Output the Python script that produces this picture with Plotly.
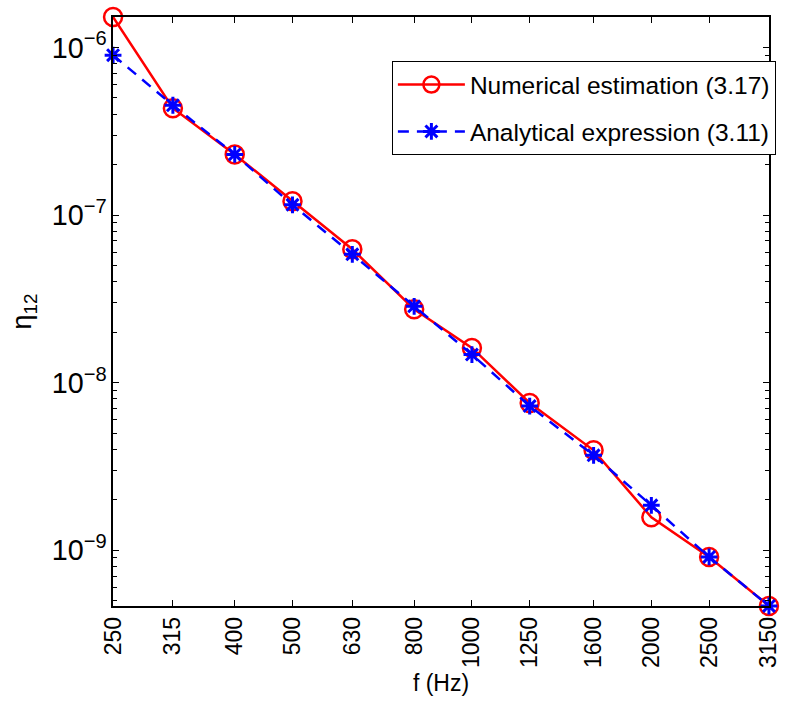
import numpy as np
import plotly.graph_objects as go

freqs = [250, 315, 400, 500, 630, 800, 1000, 1250, 1600, 2000, 2500, 3150]
freq_labels = ["250", "315", "400", "500", "630", "800", "1000", "1250", "1600", "2000", "2500", "3150"]
numerical = [1.52e-6, 4.34e-7, 2.30e-7, 1.21e-7, 6.25e-8, 2.74e-8, 1.61e-8, 7.55e-9, 3.94e-9, 1.57e-9, 9.1e-10, 4.64e-10]
analytical = [9.0e-7, 4.52e-7, 2.30e-7, 1.15e-7, 5.83e-8, 2.85e-8, 1.47e-8, 7.24e-9, 3.68e-9, 1.85e-9, 9.1e-10, 4.64e-10]
y_min, y_max = 4.64e-10, 1.52e-6
minor_vals = [m * 10.0 ** e for e in range(-10, -5) for m in range(2, 10)]

FONT = "Liberation Sans, Arial, Helvetica, sans-serif"
EPS = 1e-4

fig = go.Figure()
fig.add_trace(go.Scatter(
    x=freqs, y=numerical, mode="lines+markers",
    name="Numerical estimation (3.17)", legendgroup="a",
    line=dict(color="#ff0000", width=2.5),
    marker=dict(symbol="circle-open", size=18, color="#ff0000", line=dict(width=2.5, color="#ff0000")),
    cliponaxis=False,
))
fig.add_trace(go.Scatter(
    x=freqs, y=analytical, mode="lines+markers",
    name="Analytical expression (3.11)", legendgroup="b",
    line=dict(color="#0000ff", width=2.5, dash="11px,8px"),
    marker=dict(symbol="asterisk-open", size=14, color="#0000ff", line=dict(width=3, color="#0000ff")),
    cliponaxis=False,
))
# invisible carrier so the minor-tick overlay axis is drawn
fig.add_trace(go.Scatter(
    x=[freqs[0]], y=[y_max], yaxis="y2", mode="markers",
    marker=dict(opacity=0), showlegend=False, hoverinfo="skip",
))

fig.update_layout(
    width=793, height=704,
    margin=dict(l=113, r=12, t=17, b=89),
    paper_bgcolor="white", plot_bgcolor="white",
    font=dict(family=FONT, size=23, color="black"),
    showlegend=True,
    legend=dict(
        x=1.0105, y=0.925, xanchor="right", yanchor="top",
        bgcolor="white", bordercolor="black", borderwidth=1,
        font=dict(size=24.5), tracegroupgap=12, itemwidth=67,
        traceorder="grouped",
    ),
    yaxis2=dict(
        type="log", overlaying="y", side="left",
        range=[np.log10(y_min) - EPS, np.log10(y_max) + EPS],
        tickmode="array", tickvals=minor_vals, showticklabels=False,
        ticks="inside", ticklen=4, tickwidth=1, tickcolor="black",
        mirror="ticks", showline=False, showgrid=False, zeroline=False,
    ),
)
fig.update_xaxes(
    type="log",
    range=[np.log10(freqs[0]) - EPS, np.log10(freqs[-1]) + EPS],
    tickmode="array", tickvals=freqs, ticktext=freq_labels,
    tickangle=-90,
    ticks="inside", ticklen=6, tickwidth=1, tickcolor="black",
    showline=True, linecolor="black", linewidth=1.5, mirror="ticks",
    showgrid=False, zeroline=False,
    title=dict(text="f (Hz)", font=dict(size=23), standoff=8),
)
fig.layout.yaxis.update(
    type="log",
    range=[np.log10(y_min) - EPS, np.log10(y_max) + EPS],
    dtick=1, exponentformat="power",
    ticks="inside", ticklen=6, tickwidth=1, tickcolor="black",
    showline=True, linecolor="black", linewidth=1.5, mirror="ticks",
    showgrid=False, zeroline=False,
    title=dict(text="η<sub>12</sub>", font=dict(size=27), standoff=12),
)

fig.write_html("out.html")
